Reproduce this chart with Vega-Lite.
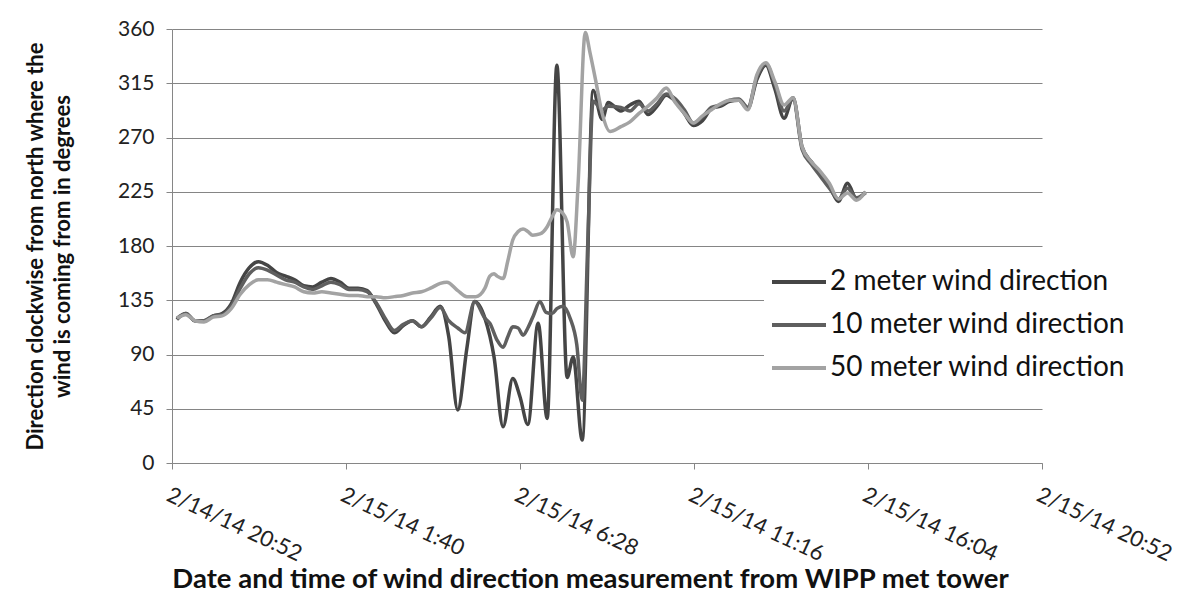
{
  "$schema": "https://vega.github.io/schema/vega-lite/v6.json",
  "width": 870,
  "height": 434,
  "autosize": {"type": "none"},
  "padding": {"left": 172, "top": 29, "right": 136, "bottom": 139},
  "background": "white",
  "config": {"font": "Lato", "view": {"stroke": null}},
  "data": {"values": [
    {"t":"2014-02-14T21:00","s":"2 meter wind direction","v":119},
    {"t":"2014-02-14T21:15","s":"2 meter wind direction","v":124},
    {"t":"2014-02-14T21:30","s":"2 meter wind direction","v":118},
    {"t":"2014-02-14T21:45","s":"2 meter wind direction","v":118},
    {"t":"2014-02-14T22:00","s":"2 meter wind direction","v":122},
    {"t":"2014-02-14T22:15","s":"2 meter wind direction","v":124},
    {"t":"2014-02-14T22:30","s":"2 meter wind direction","v":132},
    {"t":"2014-02-14T22:45","s":"2 meter wind direction","v":150},
    {"t":"2014-02-14T23:00","s":"2 meter wind direction","v":162},
    {"t":"2014-02-14T23:15","s":"2 meter wind direction","v":167},
    {"t":"2014-02-14T23:30","s":"2 meter wind direction","v":164},
    {"t":"2014-02-14T23:45","s":"2 meter wind direction","v":158},
    {"t":"2014-02-15T00:00","s":"2 meter wind direction","v":155},
    {"t":"2014-02-15T00:15","s":"2 meter wind direction","v":152},
    {"t":"2014-02-15T00:30","s":"2 meter wind direction","v":147},
    {"t":"2014-02-15T00:45","s":"2 meter wind direction","v":146},
    {"t":"2014-02-15T01:00","s":"2 meter wind direction","v":150},
    {"t":"2014-02-15T01:15","s":"2 meter wind direction","v":153},
    {"t":"2014-02-15T01:30","s":"2 meter wind direction","v":150},
    {"t":"2014-02-15T01:45","s":"2 meter wind direction","v":145},
    {"t":"2014-02-15T02:00","s":"2 meter wind direction","v":145},
    {"t":"2014-02-15T02:15","s":"2 meter wind direction","v":143},
    {"t":"2014-02-15T02:30","s":"2 meter wind direction","v":132},
    {"t":"2014-02-15T02:45","s":"2 meter wind direction","v":118},
    {"t":"2014-02-15T03:00","s":"2 meter wind direction","v":108},
    {"t":"2014-02-15T03:15","s":"2 meter wind direction","v":114},
    {"t":"2014-02-15T03:30","s":"2 meter wind direction","v":118},
    {"t":"2014-02-15T03:45","s":"2 meter wind direction","v":113},
    {"t":"2014-02-15T04:00","s":"2 meter wind direction","v":121},
    {"t":"2014-02-15T04:16","s":"2 meter wind direction","v":130},
    {"t":"2014-02-15T04:30","s":"2 meter wind direction","v":105},
    {"t":"2014-02-15T04:45","s":"2 meter wind direction","v":44},
    {"t":"2014-02-15T05:00","s":"2 meter wind direction","v":95},
    {"t":"2014-02-15T05:13","s":"2 meter wind direction","v":134},
    {"t":"2014-02-15T05:30","s":"2 meter wind direction","v":120},
    {"t":"2014-02-15T05:45","s":"2 meter wind direction","v":88},
    {"t":"2014-02-15T06:00","s":"2 meter wind direction","v":30},
    {"t":"2014-02-15T06:16","s":"2 meter wind direction","v":70},
    {"t":"2014-02-15T06:28","s":"2 meter wind direction","v":55},
    {"t":"2014-02-15T06:41","s":"2 meter wind direction","v":32},
    {"t":"2014-02-15T06:58","s":"2 meter wind direction","v":116},
    {"t":"2014-02-15T07:13","s":"2 meter wind direction","v":37},
    {"t":"2014-02-15T07:29","s":"2 meter wind direction","v":330},
    {"t":"2014-02-15T07:46","s":"2 meter wind direction","v":71},
    {"t":"2014-02-15T07:56","s":"2 meter wind direction","v":88},
    {"t":"2014-02-15T08:11","s":"2 meter wind direction","v":19},
    {"t":"2014-02-15T08:29","s":"2 meter wind direction","v":309},
    {"t":"2014-02-15T08:44","s":"2 meter wind direction","v":285},
    {"t":"2014-02-15T08:54","s":"2 meter wind direction","v":299},
    {"t":"2014-02-15T09:15","s":"2 meter wind direction","v":292},
    {"t":"2014-02-15T09:30","s":"2 meter wind direction","v":297},
    {"t":"2014-02-15T09:45","s":"2 meter wind direction","v":300},
    {"t":"2014-02-15T10:00","s":"2 meter wind direction","v":289},
    {"t":"2014-02-15T10:15","s":"2 meter wind direction","v":296},
    {"t":"2014-02-15T10:30","s":"2 meter wind direction","v":305},
    {"t":"2014-02-15T10:45","s":"2 meter wind direction","v":300},
    {"t":"2014-02-15T11:00","s":"2 meter wind direction","v":290},
    {"t":"2014-02-15T11:15","s":"2 meter wind direction","v":280},
    {"t":"2014-02-15T11:30","s":"2 meter wind direction","v":284},
    {"t":"2014-02-15T11:45","s":"2 meter wind direction","v":294},
    {"t":"2014-02-15T12:00","s":"2 meter wind direction","v":296},
    {"t":"2014-02-15T12:15","s":"2 meter wind direction","v":300},
    {"t":"2014-02-15T12:30","s":"2 meter wind direction","v":301},
    {"t":"2014-02-15T12:45","s":"2 meter wind direction","v":294},
    {"t":"2014-02-15T13:00","s":"2 meter wind direction","v":318},
    {"t":"2014-02-15T13:15","s":"2 meter wind direction","v":330},
    {"t":"2014-02-15T13:30","s":"2 meter wind direction","v":310},
    {"t":"2014-02-15T13:45","s":"2 meter wind direction","v":286},
    {"t":"2014-02-15T14:00","s":"2 meter wind direction","v":303},
    {"t":"2014-02-15T14:15","s":"2 meter wind direction","v":262},
    {"t":"2014-02-15T14:30","s":"2 meter wind direction","v":250},
    {"t":"2014-02-15T14:45","s":"2 meter wind direction","v":240},
    {"t":"2014-02-15T15:00","s":"2 meter wind direction","v":230},
    {"t":"2014-02-15T15:15","s":"2 meter wind direction","v":217},
    {"t":"2014-02-15T15:30","s":"2 meter wind direction","v":232},
    {"t":"2014-02-15T15:45","s":"2 meter wind direction","v":219},
    {"t":"2014-02-15T16:00","s":"2 meter wind direction","v":225},

    {"t":"2014-02-14T21:00","s":"10 meter wind direction","v":120},
    {"t":"2014-02-14T21:15","s":"10 meter wind direction","v":124},
    {"t":"2014-02-14T21:30","s":"10 meter wind direction","v":118},
    {"t":"2014-02-14T21:45","s":"10 meter wind direction","v":118},
    {"t":"2014-02-14T22:00","s":"10 meter wind direction","v":122},
    {"t":"2014-02-14T22:15","s":"10 meter wind direction","v":123},
    {"t":"2014-02-14T22:30","s":"10 meter wind direction","v":130},
    {"t":"2014-02-14T22:45","s":"10 meter wind direction","v":145},
    {"t":"2014-02-14T23:00","s":"10 meter wind direction","v":157},
    {"t":"2014-02-14T23:15","s":"10 meter wind direction","v":162},
    {"t":"2014-02-14T23:30","s":"10 meter wind direction","v":160},
    {"t":"2014-02-14T23:45","s":"10 meter wind direction","v":156},
    {"t":"2014-02-15T00:00","s":"10 meter wind direction","v":152},
    {"t":"2014-02-15T00:15","s":"10 meter wind direction","v":150},
    {"t":"2014-02-15T00:30","s":"10 meter wind direction","v":146},
    {"t":"2014-02-15T00:45","s":"10 meter wind direction","v":144},
    {"t":"2014-02-15T01:00","s":"10 meter wind direction","v":147},
    {"t":"2014-02-15T01:15","s":"10 meter wind direction","v":150},
    {"t":"2014-02-15T01:30","s":"10 meter wind direction","v":148},
    {"t":"2014-02-15T01:45","s":"10 meter wind direction","v":144},
    {"t":"2014-02-15T02:00","s":"10 meter wind direction","v":144},
    {"t":"2014-02-15T02:15","s":"10 meter wind direction","v":142},
    {"t":"2014-02-15T02:30","s":"10 meter wind direction","v":133},
    {"t":"2014-02-15T02:45","s":"10 meter wind direction","v":120},
    {"t":"2014-02-15T03:00","s":"10 meter wind direction","v":110},
    {"t":"2014-02-15T03:15","s":"10 meter wind direction","v":115},
    {"t":"2014-02-15T03:30","s":"10 meter wind direction","v":118},
    {"t":"2014-02-15T03:45","s":"10 meter wind direction","v":113},
    {"t":"2014-02-15T04:00","s":"10 meter wind direction","v":120},
    {"t":"2014-02-15T04:16","s":"10 meter wind direction","v":129},
    {"t":"2014-02-15T04:30","s":"10 meter wind direction","v":118},
    {"t":"2014-02-15T04:45","s":"10 meter wind direction","v":112},
    {"t":"2014-02-15T04:57","s":"10 meter wind direction","v":108},
    {"t":"2014-02-15T05:13","s":"10 meter wind direction","v":134},
    {"t":"2014-02-15T05:30","s":"10 meter wind direction","v":120},
    {"t":"2014-02-15T05:38","s":"10 meter wind direction","v":116},
    {"t":"2014-02-15T05:50","s":"10 meter wind direction","v":102},
    {"t":"2014-02-15T06:00","s":"10 meter wind direction","v":96},
    {"t":"2014-02-15T06:08","s":"10 meter wind direction","v":105},
    {"t":"2014-02-15T06:16","s":"10 meter wind direction","v":113},
    {"t":"2014-02-15T06:25","s":"10 meter wind direction","v":112},
    {"t":"2014-02-15T06:33","s":"10 meter wind direction","v":106},
    {"t":"2014-02-15T06:41","s":"10 meter wind direction","v":112},
    {"t":"2014-02-15T06:50","s":"10 meter wind direction","v":122},
    {"t":"2014-02-15T07:01","s":"10 meter wind direction","v":134},
    {"t":"2014-02-15T07:11","s":"10 meter wind direction","v":125},
    {"t":"2014-02-15T07:21","s":"10 meter wind direction","v":124},
    {"t":"2014-02-15T07:29","s":"10 meter wind direction","v":128},
    {"t":"2014-02-15T07:39","s":"10 meter wind direction","v":130},
    {"t":"2014-02-15T07:51","s":"10 meter wind direction","v":120},
    {"t":"2014-02-15T08:02","s":"10 meter wind direction","v":98},
    {"t":"2014-02-15T08:11","s":"10 meter wind direction","v":52},
    {"t":"2014-02-15T08:20","s":"10 meter wind direction","v":180},
    {"t":"2014-02-15T08:29","s":"10 meter wind direction","v":300},
    {"t":"2014-02-15T08:44","s":"10 meter wind direction","v":293},
    {"t":"2014-02-15T08:54","s":"10 meter wind direction","v":296},
    {"t":"2014-02-15T09:15","s":"10 meter wind direction","v":295},
    {"t":"2014-02-15T09:30","s":"10 meter wind direction","v":292},
    {"t":"2014-02-15T09:45","s":"10 meter wind direction","v":298},
    {"t":"2014-02-15T10:00","s":"10 meter wind direction","v":292},
    {"t":"2014-02-15T10:15","s":"10 meter wind direction","v":298},
    {"t":"2014-02-15T10:30","s":"10 meter wind direction","v":306},
    {"t":"2014-02-15T10:45","s":"10 meter wind direction","v":302},
    {"t":"2014-02-15T11:00","s":"10 meter wind direction","v":293},
    {"t":"2014-02-15T11:15","s":"10 meter wind direction","v":282},
    {"t":"2014-02-15T11:30","s":"10 meter wind direction","v":287},
    {"t":"2014-02-15T11:45","s":"10 meter wind direction","v":295},
    {"t":"2014-02-15T12:00","s":"10 meter wind direction","v":297},
    {"t":"2014-02-15T12:15","s":"10 meter wind direction","v":301},
    {"t":"2014-02-15T12:30","s":"10 meter wind direction","v":302},
    {"t":"2014-02-15T12:45","s":"10 meter wind direction","v":295},
    {"t":"2014-02-15T13:00","s":"10 meter wind direction","v":320},
    {"t":"2014-02-15T13:15","s":"10 meter wind direction","v":331},
    {"t":"2014-02-15T13:30","s":"10 meter wind direction","v":314},
    {"t":"2014-02-15T13:45","s":"10 meter wind direction","v":292},
    {"t":"2014-02-15T14:00","s":"10 meter wind direction","v":302},
    {"t":"2014-02-15T14:15","s":"10 meter wind direction","v":260},
    {"t":"2014-02-15T14:30","s":"10 meter wind direction","v":248},
    {"t":"2014-02-15T14:45","s":"10 meter wind direction","v":238},
    {"t":"2014-02-15T15:00","s":"10 meter wind direction","v":228},
    {"t":"2014-02-15T15:15","s":"10 meter wind direction","v":219},
    {"t":"2014-02-15T15:30","s":"10 meter wind direction","v":228},
    {"t":"2014-02-15T15:45","s":"10 meter wind direction","v":220},
    {"t":"2014-02-15T16:00","s":"10 meter wind direction","v":224},

    {"t":"2014-02-14T21:00","s":"50 meter wind direction","v":120},
    {"t":"2014-02-14T21:15","s":"50 meter wind direction","v":123},
    {"t":"2014-02-14T21:30","s":"50 meter wind direction","v":118},
    {"t":"2014-02-14T21:45","s":"50 meter wind direction","v":117},
    {"t":"2014-02-14T22:00","s":"50 meter wind direction","v":121},
    {"t":"2014-02-14T22:15","s":"50 meter wind direction","v":122},
    {"t":"2014-02-14T22:30","s":"50 meter wind direction","v":128},
    {"t":"2014-02-14T22:45","s":"50 meter wind direction","v":140},
    {"t":"2014-02-14T23:00","s":"50 meter wind direction","v":148},
    {"t":"2014-02-14T23:15","s":"50 meter wind direction","v":152},
    {"t":"2014-02-14T23:30","s":"50 meter wind direction","v":152},
    {"t":"2014-02-14T23:45","s":"50 meter wind direction","v":150},
    {"t":"2014-02-15T00:00","s":"50 meter wind direction","v":148},
    {"t":"2014-02-15T00:15","s":"50 meter wind direction","v":146},
    {"t":"2014-02-15T00:30","s":"50 meter wind direction","v":142},
    {"t":"2014-02-15T00:45","s":"50 meter wind direction","v":141},
    {"t":"2014-02-15T01:00","s":"50 meter wind direction","v":142},
    {"t":"2014-02-15T01:15","s":"50 meter wind direction","v":141},
    {"t":"2014-02-15T01:30","s":"50 meter wind direction","v":140},
    {"t":"2014-02-15T01:45","s":"50 meter wind direction","v":139},
    {"t":"2014-02-15T02:00","s":"50 meter wind direction","v":139},
    {"t":"2014-02-15T02:15","s":"50 meter wind direction","v":138},
    {"t":"2014-02-15T02:30","s":"50 meter wind direction","v":138},
    {"t":"2014-02-15T02:45","s":"50 meter wind direction","v":137},
    {"t":"2014-02-15T03:00","s":"50 meter wind direction","v":138},
    {"t":"2014-02-15T03:15","s":"50 meter wind direction","v":139},
    {"t":"2014-02-15T03:30","s":"50 meter wind direction","v":141},
    {"t":"2014-02-15T03:45","s":"50 meter wind direction","v":142},
    {"t":"2014-02-15T04:00","s":"50 meter wind direction","v":145},
    {"t":"2014-02-15T04:16","s":"50 meter wind direction","v":149},
    {"t":"2014-02-15T04:27","s":"50 meter wind direction","v":150},
    {"t":"2014-02-15T04:45","s":"50 meter wind direction","v":143},
    {"t":"2014-02-15T05:00","s":"50 meter wind direction","v":138},
    {"t":"2014-02-15T05:15","s":"50 meter wind direction","v":138},
    {"t":"2014-02-15T05:30","s":"50 meter wind direction","v":145},
    {"t":"2014-02-15T05:38","s":"50 meter wind direction","v":155},
    {"t":"2014-02-15T05:45","s":"50 meter wind direction","v":157},
    {"t":"2014-02-15T05:50","s":"50 meter wind direction","v":155},
    {"t":"2014-02-15T06:00","s":"50 meter wind direction","v":153},
    {"t":"2014-02-15T06:08","s":"50 meter wind direction","v":168},
    {"t":"2014-02-15T06:16","s":"50 meter wind direction","v":185},
    {"t":"2014-02-15T06:25","s":"50 meter wind direction","v":192},
    {"t":"2014-02-15T06:33","s":"50 meter wind direction","v":194},
    {"t":"2014-02-15T06:41","s":"50 meter wind direction","v":192},
    {"t":"2014-02-15T06:49","s":"50 meter wind direction","v":189},
    {"t":"2014-02-15T07:01","s":"50 meter wind direction","v":190},
    {"t":"2014-02-15T07:13","s":"50 meter wind direction","v":196},
    {"t":"2014-02-15T07:21","s":"50 meter wind direction","v":204},
    {"t":"2014-02-15T07:29","s":"50 meter wind direction","v":210},
    {"t":"2014-02-15T07:39","s":"50 meter wind direction","v":207},
    {"t":"2014-02-15T07:46","s":"50 meter wind direction","v":200},
    {"t":"2014-02-15T07:56","s":"50 meter wind direction","v":171},
    {"t":"2014-02-15T08:04","s":"50 meter wind direction","v":230},
    {"t":"2014-02-15T08:16","s":"50 meter wind direction","v":357},
    {"t":"2014-02-15T08:24","s":"50 meter wind direction","v":340},
    {"t":"2014-02-15T08:33","s":"50 meter wind direction","v":318},
    {"t":"2014-02-15T08:44","s":"50 meter wind direction","v":290},
    {"t":"2014-02-15T08:57","s":"50 meter wind direction","v":275},
    {"t":"2014-02-15T09:15","s":"50 meter wind direction","v":279},
    {"t":"2014-02-15T09:30","s":"50 meter wind direction","v":283},
    {"t":"2014-02-15T09:45","s":"50 meter wind direction","v":290},
    {"t":"2014-02-15T10:00","s":"50 meter wind direction","v":296},
    {"t":"2014-02-15T10:15","s":"50 meter wind direction","v":303},
    {"t":"2014-02-15T10:30","s":"50 meter wind direction","v":311},
    {"t":"2014-02-15T10:45","s":"50 meter wind direction","v":299},
    {"t":"2014-02-15T11:00","s":"50 meter wind direction","v":290},
    {"t":"2014-02-15T11:15","s":"50 meter wind direction","v":282},
    {"t":"2014-02-15T11:30","s":"50 meter wind direction","v":288},
    {"t":"2014-02-15T11:45","s":"50 meter wind direction","v":293},
    {"t":"2014-02-15T12:00","s":"50 meter wind direction","v":298},
    {"t":"2014-02-15T12:15","s":"50 meter wind direction","v":301},
    {"t":"2014-02-15T12:30","s":"50 meter wind direction","v":301},
    {"t":"2014-02-15T12:45","s":"50 meter wind direction","v":293},
    {"t":"2014-02-15T13:00","s":"50 meter wind direction","v":322},
    {"t":"2014-02-15T13:15","s":"50 meter wind direction","v":332},
    {"t":"2014-02-15T13:30","s":"50 meter wind direction","v":316},
    {"t":"2014-02-15T13:45","s":"50 meter wind direction","v":297},
    {"t":"2014-02-15T14:00","s":"50 meter wind direction","v":303},
    {"t":"2014-02-15T14:15","s":"50 meter wind direction","v":262},
    {"t":"2014-02-15T14:30","s":"50 meter wind direction","v":250},
    {"t":"2014-02-15T14:45","s":"50 meter wind direction","v":242},
    {"t":"2014-02-15T15:00","s":"50 meter wind direction","v":232},
    {"t":"2014-02-15T15:15","s":"50 meter wind direction","v":219},
    {"t":"2014-02-15T15:30","s":"50 meter wind direction","v":224},
    {"t":"2014-02-15T15:45","s":"50 meter wind direction","v":218},
    {"t":"2014-02-15T16:00","s":"50 meter wind direction","v":225}
  ]},
  "mark": {"type": "line", "strokeWidth": 3.5, "interpolate": "monotone"},
  "encoding": {
    "x": {
      "field": "t", "type": "temporal",
      "scale": {"domain": [
        {"year": 2014, "month": 2, "date": 14, "hours": 20, "minutes": 52},
        {"year": 2014, "month": 2, "date": 15, "hours": 20, "minutes": 52}
      ]},
      "axis": {
        "values": [
          {"year": 2014, "month": 2, "date": 14, "hours": 20, "minutes": 52},
          {"year": 2014, "month": 2, "date": 15, "hours": 1, "minutes": 40},
          {"year": 2014, "month": 2, "date": 15, "hours": 6, "minutes": 28},
          {"year": 2014, "month": 2, "date": 15, "hours": 11, "minutes": 16},
          {"year": 2014, "month": 2, "date": 15, "hours": 16, "minutes": 4},
          {"year": 2014, "month": 2, "date": 15, "hours": 20, "minutes": 52}
        ],
        "format": "%-m/%-d/%y %-H:%M",
        "labelAngle": 25, "labelAlign": "left", "labelBaseline": "top",
        "labelFontSize": 22, "labelColor": "#222222", "labelPadding": 15,
        "labelOverlap": false, "labelBound": false, "labelFlush": false,
        "grid": false, "domainColor": "#868686", "tickColor": "#868686", "tickSize": 6,
        "title": "Date and time of wind direction measurement from WIPP met tower",
        "titleFontSize": 27.5, "titleFontWeight": "bold", "titleColor": "#111111",
        "titleX": 418, "titleY": 116, "titleAlign": "center", "titleBaseline": "middle"
      }
    },
    "y": {
      "field": "v", "type": "quantitative",
      "scale": {"domain": [0, 360], "nice": false},
      "axis": {
        "values": [0, 45, 90, 135, 180, 225, 270, 315, 360],
        "grid": true, "gridColor": "#858585", "gridWidth": 1,
        "domainColor": "#868686", "tickColor": "#868686", "tickSize": 6,
        "labelFontSize": 21, "labelColor": "#222222", "labelPadding": 12,
        "title": ["Direction clockwise from north where the", "wind is coming from in degrees"],
        "titleFontSize": 22, "titleFontWeight": "bold", "titleColor": "#111111",
        "titleAngle": -90, "titleX": -137, "titleY": 217, "titleAlign": "center",
        "titleBaseline": "middle", "titleLineHeight": 27
      }
    },
    "color": {
      "field": "s", "type": "nominal",
      "scale": {
        "domain": ["2 meter wind direction", "10 meter wind direction", "50 meter wind direction"],
        "range": ["#454545", "#5f5f5f", "#a3a3a3"]
      },
      "legend": {
        "orient": "none", "legendX": 592, "legendY": 218, "title": null,
        "symbolType": "stroke", "symbolSize": 2916, "symbolStrokeWidth": 4,
        "labelFontSize": 28, "labelColor": "#111111", "labelOffset": 2, "labelLimit": 0,
        "fillColor": "white", "padding": 6, "rowPadding": -3
      }
    }
  }
}
